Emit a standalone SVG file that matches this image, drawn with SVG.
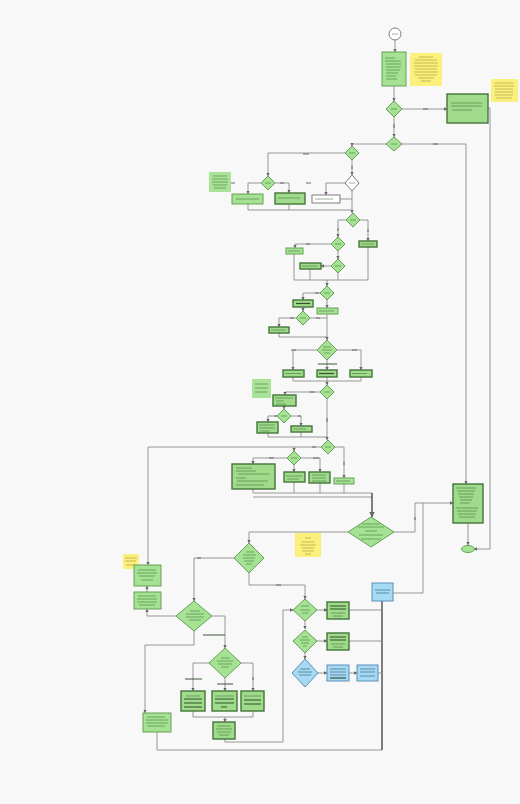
<svg xmlns="http://www.w3.org/2000/svg" width="520" height="804" viewBox="0 0 520 804">
<style>
  .n{fill:#a5e293;stroke:#66a057;stroke-width:1}
  .nd{fill:#9fdb8b;stroke:#44753a;stroke-width:1.4}
  .w{fill:#ffffff;stroke:#6f6f6f;stroke-width:0.9}
  .y{fill:#fbf07c}
  .s{fill:#a9e397}
  .b{fill:#a6d9f4;stroke:#5b8fb5;stroke-width:1}
  .l{fill:none;stroke:#8c8c8c;stroke-width:0.9}
  .ld{fill:none;stroke:#4a4a4a;stroke-width:1.4}
  .t{stroke:#2f5a27;stroke-width:0.8;opacity:0.6}
  .tb{stroke:#1f3a18;stroke-width:1.2;opacity:0.85}
  .ty{stroke:#7a6c1c;stroke-width:0.7;opacity:0.6}
  .tl{stroke:#2c4e6a;stroke-width:0.8;opacity:0.7}
  .lb{stroke:#6a6a6a;stroke-width:1}
</style>
<defs>
  <marker id="ah" viewBox="0 0 6 6" refX="5.5" refY="3" markerWidth="4" markerHeight="4" orient="auto">
    <path d="M0,0 L6,3 L0,6 Z" fill="#666"/>
  </marker>
</defs>
<rect width="520" height="804" fill="#f8f8f8"/>

<!-- connectors -->
<g id="connectors" marker-end="url(#ah)">
  <path class="l" d="M395,40 V52"/>
  <path class="l" d="M394,86 V101"/>
  <path class="l" d="M402,109 H447"/>
  <path class="l" d="M394,117 V137"/>
  <path class="l" d="M386,144 H352 V146"/>
  <path class="l" d="M402,144 H466 V484"/>
  <path class="l" d="M488,108 H490 V549 H474"/>
  <path class="l" d="M345,153 H268 V176"/>
  <path class="l" d="M352,160 V175"/>
  <path class="l" d="M261,183 H248 V194"/>
  <path class="l" d="M275,183 H289 V193"/>
  <path class="l" d="M345,183 H326 V195"/>
  <path class="l" d="M340,199 H352" marker-end="none"/>
  <path class="l" d="M352,191 V213"/>
  <path class="l" d="M248,204 V210 H352" marker-end="none"/>
  <path class="l" d="M289,205 V210" marker-end="none"/>
  <path class="l" d="M346,220 H338 V237"/>
  <path class="l" d="M360,220 H368 V241"/>
  <path class="l" d="M331,244 H295 V248"/>
  <path class="l" d="M338,251 V259"/>
  <path class="l" d="M331,266 H321"/>
  <path class="l" d="M294,254 V280 H368 V247" marker-end="none"/>
  <path class="l" d="M310,269 V280" marker-end="none"/>
  <path class="l" d="M338,273 V280" marker-end="none"/>
  <path class="l" d="M327,280 V286"/>
  <path class="l" d="M320,293 H303 V300"/>
  <path class="l" d="M327,300 V308"/>
  <path class="l" d="M303,307 V311"/>
  <path class="l" d="M296,318 H279 V327"/>
  <path class="l" d="M310,318 H327" marker-end="none"/>
  <path class="l" d="M279,333 V337 H327" marker-end="none"/>
  <path class="l" d="M327,314 V340"/>
  <path class="l" d="M317,350 H293 V370"/>
  <path class="l" d="M327,360 V370"/>
  <path class="l" d="M337,350 H361 V370"/>
  <path class="l" d="M293,377 V381 H361 V377" marker-end="none"/>
  <path class="l" d="M327,377 V385"/>
  <path class="l" d="M320,392 H285 V395"/>
  <path class="l" d="M284,406 V409"/>
  <path class="l" d="M277,416 H268 V422"/>
  <path class="l" d="M291,416 H301 V426"/>
  <path class="l" d="M268,433 V437 H327" marker-end="none"/>
  <path class="l" d="M301,432 V437" marker-end="none"/>
  <path class="l" d="M327,399 V440"/>
  <path class="l" d="M321,447 H148 V565"/>
  <path class="l" d="M294,447 V451"/>
  <path class="l" d="M287,458 H253 V464"/>
  <path class="l" d="M294,465 V472"/>
  <path class="l" d="M301,458 H320 V472"/>
  <path class="l" d="M335,447 H344 V478"/>
  <path class="l" d="M294,482 V493" marker-end="none"/>
  <path class="l" d="M320,483 V493" marker-end="none"/>
  <path class="l" d="M344,484 V493" marker-end="none"/>
  <path class="l" d="M253,489 V493 H372" marker-end="none"/>
  <path class="l" d="M253,497 H372" marker-end="none"/>
  <path class="ld" d="M372,493 V517"/>
  <path class="l" d="M394,532 H415 V503 H453"/>
  <path class="l" d="M393,593 H423 V503" marker-end="none"/>
  <path class="l" d="M348,532 H249 V543"/>
  <path class="l" d="M234,558 H194 V601"/>
  <path class="l" d="M249,573 V585 H305 V599"/>
  <path class="l" d="M176,616 H147 V609"/>
  <path class="l" d="M147,592 V586"/>
  <path class="l" d="M194,631 V645 H145 V713"/>
  <path class="l" d="M212,616 H225 V648"/>
  <path class="l" d="M209,663 H193 V691"/>
  <path class="l" d="M225,677 V691"/>
  <path class="l" d="M241,663 H253 V691"/>
  <path class="l" d="M193,711 V717 H253 V711" marker-end="none"/>
  <path class="l" d="M225,717 V722"/>
  <path class="l" d="M225,739 V742 H283 V610 H293"/>
  <path class="l" d="M157,732 V750 H382" marker-end="none"/>
  <path class="ld" d="M382,601 V750" marker-end="none"/>
  <path class="l" d="M317,610 H327"/>
  <path class="l" d="M349,610 H382" marker-end="none"/>
  <path class="l" d="M305,621 V629"/>
  <path class="l" d="M317,641 H327"/>
  <path class="l" d="M349,641 H382" marker-end="none"/>
  <path class="l" d="M305,653 V659"/>
  <path class="l" d="M318,673 H327"/>
  <path class="l" d="M349,673 H357"/>
  <path class="l" d="M378,673 H382" marker-end="none"/>
  <path class="l" d="M468,523 V545"/>
  <!-- branch labels -->
  <g marker-end="none">
    <path class="lb" d="M423,109 h5 M394,124 v4 M433,144 h5 M303,154 h6 M352,166 v3 M231,183 h4 M280,183 h4 M306,183 h5"/>
    <path class="lb" d="M338,228 v3 M368,229 v3 M306,244 h4 M315,293 h4 M290,318 h4 M316,318 h4 M291,350 h5 M352,350 h5 M310,392 h5 M274,416 h3 M298,416 h3 M327,418 v4"/>
    <path class="lb" d="M269,458 h5 M313,458 h6 M344,462 v3 M415,517 v3 M197,558 h4 M276,585 h5 M312,447 h4"/>
    <path class="tb" d="M318,364 h19 M203,635 h22 M185,679 h17 M217,684 h16"/>
    <path class="lb" d="M253,677 v3"/>
  </g>
</g>

<!-- start and end -->
<g id="start"><circle class="w" cx="395" cy="34" r="6" stroke="#555"/><line class="t" x1="392" y1="34" x2="398" y2="34"/></g>
<g id="end"><ellipse class="n" cx="468" cy="549" rx="6.5" ry="3.5"/></g>

<!-- process nodes -->
<g id="n1"><rect class="n" x="382" y="52" width="24" height="34"/>
  <path class="t" d="M385,58 h10 M385,61 h16 M386,64 h15 M386,67 h15 M386,70 h14 M386,73 h12 M386,76 h10 M386,79 h11"/></g>
<g id="note1"><rect class="y" x="410" y="53" width="32" height="33"/>
  <path class="ty" d="M419,57 h14 M415,60 h22 M414,63 h24 M414,66 h24 M415,69 h22 M414,72 h24 M415,75 h22 M418,78 h16 M421,81 h10"/></g>
<g id="n2"><rect class="nd" x="447" y="94" width="41" height="29"/>
  <path class="t" d="M451,103 h31 M451,106 h31 M452,110 h20"/></g>
<g id="note2"><rect class="y" x="491" y="79" width="27" height="23"/>
  <path class="ty" d="M495,83 h18 M494,86 h20 M495,89 h18 M495,92 h18 M495,95 h18 M496,98 h16"/></g>
<g id="n3"><rect class="n" x="232" y="194" width="31" height="10"/><path class="t" d="M236,199 h23"/></g>
<g id="n4"><rect class="nd" x="275" y="193" width="30" height="11"/><path class="t" d="M278,198 h22"/></g>
<g id="note3"><rect class="s" x="209" y="172" width="22" height="20"/>
  <path class="t" d="M213,176 h14 M212,179 h16 M212,182 h16 M213,185 h14 M214,188 h12"/></g>
<g id="n5"><rect class="w" x="312" y="195" width="28" height="8"/><path class="t" d="M315,199 h18"/></g>
<g id="n6"><rect class="nd" x="359" y="241" width="18" height="6"/><path class="t" d="M361,244 h13"/></g>
<g id="n7"><rect class="n" x="286" y="248" width="17" height="6"/><path class="t" d="M288,251 h12"/></g>
<g id="n8"><rect class="nd" x="300" y="263" width="21" height="6"/><path class="t" d="M302,266 h16"/></g>
<g id="n9"><rect class="nd" x="293" y="300" width="20" height="7"/><path class="tb" d="M296,303.5 h14"/></g>
<g id="n10"><rect class="n" x="317" y="308" width="21" height="6"/><path class="t" d="M319,311 h15"/></g>
<g id="n11"><rect class="nd" x="269" y="327" width="20" height="6"/><path class="t" d="M271,330 h15"/></g>
<g id="n12"><rect class="nd" x="283" y="370" width="21" height="7"/><path class="t" d="M285,373.5 h16"/></g>
<g id="n13"><rect class="nd" x="317" y="370" width="20" height="7"/><path class="tb" d="M319,373.5 h15"/></g>
<g id="n14"><rect class="nd" x="350" y="370" width="22" height="7"/><path class="t" d="M352,373.5 h15"/></g>
<g id="note4"><rect class="s" x="252" y="379" width="19" height="19"/>
  <path class="t" d="M255,384 h13 M255,388 h13 M255,392 h12"/></g>
<g id="n15"><rect class="nd" x="273" y="395" width="23" height="11"/><path class="t" d="M275,398 h18 M276,401 h8 M276,404 h10"/></g>
<g id="n16"><rect class="nd" x="257" y="422" width="21" height="11"/><path class="t" d="M259,425 h16 M259,428 h16 M260,431 h10"/></g>
<g id="n17"><rect class="nd" x="291" y="426" width="21" height="6"/><path class="t" d="M293,429 h13"/></g>
<g id="n18"><rect class="nd" x="232" y="464" width="43" height="25"/>
  <path class="t" d="M236,468 h16 M236,471 h20 M238,474 h31 M236,478 h10 M237,481 h31 M236,485 h28"/></g>
<g id="n19"><rect class="nd" x="284" y="472" width="21" height="10"/><path class="t" d="M286,476 h16 M287,479 h12"/></g>
<g id="n20"><rect class="nd" x="309" y="472" width="21" height="11"/><path class="t" d="M312,475 h14 M312,478 h14 M312,481 h14"/></g>
<g id="n21"><rect class="n" x="334" y="478" width="20" height="6"/><path class="t" d="M336,481 h14"/></g>
<g id="n22"><rect class="nd" x="453" y="484" width="30" height="39"/>
  <path class="t" d="M456,488 h20 M457,491 h18 M458,494 h16 M459,497 h14 M460,500 h12 M460,503 h10 M456,508 h22 M457,511 h20 M458,514 h18 M459,517 h16"/></g>
<g id="note5"><rect class="y" x="295" y="533" width="26" height="24"/>
  <path class="ty" d="M305,538 h6 M302,542 h12 M300,545 h16 M302,548 h12 M302,551 h12 M305,554 h6"/></g>
<g id="note6"><rect class="y" x="123" y="554" width="16" height="15"/>
  <path class="ty" d="M125,558 h12 M125,561 h11 M126,565 h9"/></g>
<g id="n23"><rect class="n" x="134" y="565" width="27" height="21"/>
  <path class="t" d="M138,570 h18 M137,573 h20 M139,576 h16 M141,580 h12"/></g>
<g id="n24"><rect class="n" x="134" y="592" width="27" height="17"/>
  <path class="t" d="M138,596 h18 M137,599 h20 M137,602 h20 M139,605 h16"/></g>
<g id="n25"><rect class="nd" x="181" y="691" width="24" height="20"/>
  <path class="t" d="M186,696 h14"/><path class="tb" d="M184,699 h18 M184,703 h18 M184,707 h18"/></g>
<g id="n26"><rect class="nd" x="212" y="691" width="25" height="20"/>
  <path class="t" d="M215,696 h19"/><path class="tb" d="M215,699 h19 M215,703 h19 M221,707 h6"/></g>
<g id="n27"><rect class="nd" x="241" y="691" width="23" height="20"/>
  <path class="t" d="M244,696 h17"/><path class="tb" d="M244,700 h17 M244,704 h17"/></g>
<g id="n28"><rect class="nd" x="213" y="722" width="22" height="17"/>
  <path class="t" d="M217,726 h14 M216,729 h16 M217,732 h14 M219,735 h10"/></g>
<g id="n29"><rect class="n" x="143" y="713" width="28" height="19"/>
  <path class="t" d="M147,717 h18 M146,720 h22 M146,723 h22 M147,726 h18"/></g>
<g id="n30"><rect class="nd" x="327" y="602" width="22" height="17"/>
  <path class="tb" d="M330,606 h16 M330,609 h16"/><path class="t" d="M331,613 h14 M333,616 h10"/></g>
<g id="n31"><rect class="nd" x="327" y="633" width="22" height="17"/>
  <path class="tb" d="M330,637 h16 M330,640 h16"/><path class="t" d="M331,644 h14 M333,647 h10"/></g>
<g id="b1"><rect class="b" x="327" y="665" width="22" height="16"/>
  <path class="tl" d="M330,669 h16 M330,672 h16 M330,675 h16"/><path class="tb" d="M330,678 h16" stroke="#1e3a52"/></g>
<g id="b2"><rect class="b" x="357" y="665" width="21" height="16"/>
  <path class="tl" d="M360,669 h15 M360,672 h15 M360,676 h15"/></g>
<g id="b3"><rect class="b" x="372" y="583" width="21" height="18"/>
  <path class="tl" d="M375,590 h15 M376,593 h13"/></g>

<!-- decision nodes -->
<g id="d1"><polygon class="n" points="394,101 402,109 394,117 386,109"/><path class="t" d="M391,109 h6"/></g>
<g id="d2"><polygon class="n" points="394,137 402,144 394,151 386,144"/><path class="t" d="M391,144 h6"/></g>
<g id="d3"><polygon class="n" points="352,146 359,153 352,160 345,153"/><path class="t" d="M349,153 h6"/></g>
<g id="d4"><polygon class="n" points="268,176 275,183 268,190 261,183"/><path class="t" d="M265,183 h6"/></g>
<g id="d5"><polygon class="w" points="352,175 359,183 352,191 345,183"/><path class="t" d="M349,183 h6"/></g>
<g id="d6"><polygon class="n" points="353,213 360,220 353,227 346,220"/><path class="t" d="M350,220 h6"/></g>
<g id="d7"><polygon class="n" points="338,237 345,244 338,251 331,244"/><path class="t" d="M335,244 h6"/></g>
<g id="d8"><polygon class="n" points="338,259 345,266 338,273 331,266"/><path class="t" d="M335,266 h6"/></g>
<g id="d9"><polygon class="n" points="327,286 334,293 327,300 320,293"/><path class="t" d="M324,293 h6"/></g>
<g id="d10"><polygon class="n" points="303,311 310,318 303,325 296,318"/><path class="t" d="M300,318 h6"/></g>
<g id="d11"><polygon class="n" points="327,340 337,350 327,360 317,350"/><path class="t" d="M323,347 h8 M322,350 h10 M324,353 h6"/></g>
<g id="d12"><polygon class="n" points="327,385 334,392 327,399 320,392"/><path class="t" d="M324,392 h6"/></g>
<g id="d13"><polygon class="n" points="284,409 291,416 284,423 277,416"/><path class="t" d="M281,416 h6"/></g>
<g id="d14"><polygon class="n" points="328,440 335,447 328,454 321,447"/><path class="t" d="M325,447 h6"/></g>
<g id="d15"><polygon class="n" points="294,451 301,458 294,465 287,458"/><path class="t" d="M291,458 h6"/></g>
<g id="d16"><polygon class="n" points="371,517 394,532 371,547 348,532"/>
  <path class="t" d="M362,524 h18 M358,527 h26 M365,531 h12 M359,535 h24 M361,539 h20"/></g>
<g id="d17"><polygon class="n" points="249,543 264,558 249,573 234,558"/>
  <path class="t" d="M246,552 h8 M243,555 h13 M243,558 h12 M244,561 h10 M246,564 h6"/></g>
<g id="d18"><polygon class="n" points="194,601 212,616 194,631 176,616"/>
  <path class="t" d="M190,611 h10 M186,614 h18 M186,617 h18 M189,620 h12"/></g>
<g id="d20"><polygon class="n" points="225,648 241,663 225,678 209,663"/>
  <path class="t" d="M221,658 h9 M217,661 h16 M218,664 h14 M221,667 h8"/></g>
<g id="d19"><polygon class="n" points="305,599 317,610 305,621 293,610"/>
  <path class="t" d="M301,606 h8 M300,610 h10 M302,613 h6"/></g>
<g id="d21"><polygon class="n" points="305,630 317,641 305,653 293,641"/>
  <path class="t" d="M302,637 h6 M300,640 h10 M301,643 h8 M303,646 h4"/></g>
<g id="d22"><polygon class="b" points="305,659 318,673 305,687 292,673"/>
  <path class="tl" d="M300,669 h10 M298,672 h14 M299,675 h12"/></g>
</svg>
